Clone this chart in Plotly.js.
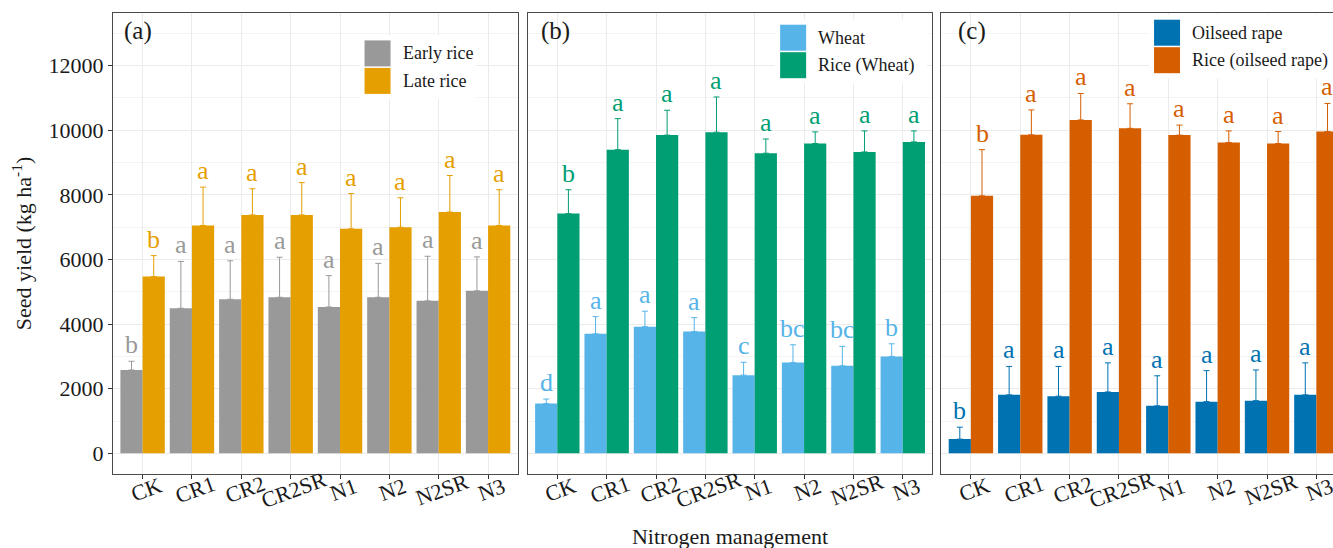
<!DOCTYPE html>
<html><head><meta charset="utf-8">
<script src="https://cdn.plot.ly/plotly-3.0.1.min.js"></script>
<style>html,body{margin:0;padding:0;overflow:hidden;background:#fff}#chart{width:1350px;height:570px}</style>
</head><body><div id="chart"></div>
<script>
const categories = ['CK','CR1','CR2','CR2SR','N1','N2','N2SR','N3'];

// Panel (a)
const earlyRice       = [2580, 4490, 4770, 4830, 4530, 4830, 4720, 5030];
const earlyRiceErr    = [270, 1450, 1190, 1240, 970, 1050, 1380, 1050];
const earlyRiceLetters= ['b','a','a','a','a','a','a','a'];
const lateRice        = [5470, 7050, 7380, 7380, 6950, 7000, 7470, 7050];
const lateRiceErr     = [650, 1190, 810, 1000, 1090, 910, 1130, 1110];
const lateRiceLetters = ['b','a','a','a','a','a','a','a'];

// Panel (b)
const wheat           = [1540, 3700, 3920, 3770, 2420, 2810, 2710, 3000];
const wheatErr        = [140, 530, 480, 430, 400, 550, 600, 390];
const wheatLetters    = ['d','a','a','a','c','bc','bc','b'];
const riceWheat       = [7420, 9400, 9850, 9940, 9290, 9590, 9330, 9640];
const riceWheatErr    = [740, 960, 770, 1090, 440, 360, 650, 340];
const riceWheatLetters= ['b','a','a','a','a','a','a','a'];

// Panel (c)
const oilseed         = [440, 1810, 1770, 1900, 1470, 1600, 1630, 1810];
const oilseedErr      = [370, 880, 920, 900, 930, 960, 950, 990];
const oilseedLetters  = ['b','a','a','a','a','a','a','a'];
const riceOilseed     = [7970, 9860, 10320, 10060, 9850, 9620, 9590, 9960];
const riceOilseedErr  = [1430, 770, 820, 760, 310, 360, 370, 870];
const riceOilseedLetters = ['b','a','a','a','a','a','a','a'];

const yTicks = [0, 2000, 4000, 6000, 8000, 10000, 12000];

const FONT = 'Liberation Serif, Times New Roman, serif';
const PW = 404.8, PH = 461;
const BAR_OFF = 11.1;

const panels = [
  {ax:'x', ay:'y', label:'(a)', labelX:9.3,
   leg:{kx:251.6, ky:27.4, bgW:116},
   series:[
     {name:'Early rice', v:earlyRice, e:earlyRiceErr, l:earlyRiceLetters, c:'#999999'},
     {name:'Late rice', v:lateRice, e:lateRiceErr, l:lateRiceLetters, c:'#E69F00'}]},
  {ax:'x2', ay:'y2', label:'(b)', labelX:11.3,
   leg:{kx:252.5, ky:11.7, bgW:152},
   series:[
     {name:'Wheat', v:wheat, e:wheatErr, l:wheatLetters, c:'#56B4E9'},
     {name:'Rice (Wheat)', v:riceWheat, e:riceWheatErr, l:riceWheatLetters, c:'#009E73'}]},
  {ax:'x3', ay:'y3', label:'(c)', labelX:14.8,
   leg:{kx:212.8, ky:6.7, bgW:200},
   series:[
     {name:'Oilseed rape', v:oilseed, e:oilseedErr, l:oilseedLetters, c:'#0072B2'},
     {name:'Rice (oilseed rape)', v:riceOilseed, e:riceOilseedErr, l:riceOilseedLetters, c:'#D55E00'}]}
];

const traces = [], annotations = [], shapes = [];
panels.forEach(p => {
  const xd = p.ax + ' domain', yd = p.ay + ' domain';
  p.series.forEach((s, si) => {
    traces.push({
      type:'bar', x:categories, y:s.v, name:s.name, xaxis:p.ax, yaxis:p.ay,
      marker:{color:s.c, line:{width:0}}, showlegend:false, hoverinfo:'x+y',
      error_y:{type:'data', symmetric:false, array:s.e, arrayminus:s.e.map(()=>0),
               color:s.c, thickness:1, width:3}
    });
    categories.forEach((cat, i) => {
      annotations.push({xref:p.ax, yref:p.ay, x:cat, y:s.v[i]+s.e[i],
        xshift: si === 0 ? -BAR_OFF : BAR_OFF, yanchor:'bottom', xanchor:'center',
        text:s.l[i], showarrow:false, font:{family:FONT, size:26, color:s.c}});
    });
    // legend key + text
    const kTop = p.leg.ky + si*27.5;
    shapes.push({type:'rect', xref:xd, yref:yd, layer:'above',
      x0:p.leg.kx/PW, x1:(p.leg.kx+26)/PW, y0:1-(kTop+26)/PH, y1:1-kTop/PH,
      fillcolor:s.c, line:{width:0}});
    annotations.push({xref:xd, yref:yd, x:(p.leg.kx+36)/PW, y:1-(kTop+13)/PH,
      xanchor:'left', yanchor:'middle', text:s.name, showarrow:false,
      font:{family:FONT, size:18, color:'#1a1a1a'}});
  });
  // legend background
  shapes.unshift({type:'rect', xref:xd, yref:yd, layer:'above',
    x0:(p.leg.kx-5)/PW, x1:Math.min(1,(p.leg.kx-5+p.leg.bgW)/PW),
    y0:1-(p.leg.ky+58.5)/PH, y1:1-(p.leg.ky-5)/PH, fillcolor:'#ffffff', line:{width:0}});
  // panel label
  annotations.push({xref:xd, yref:yd, x:p.labelX/PW, y:1-17.7/PH, xanchor:'left', yanchor:'middle',
    text:p.label, showarrow:false, font:{family:FONT, size:25, color:'#1a1a1a'}});
  // x tick labels (rotated, centered)
  categories.forEach(cat => {
    annotations.push({xref:p.ax, yref:yd, x:cat, y:0, yshift:-15.5, xshift:3.5,
      xanchor:'center', yanchor:'middle', textangle:-20, text:cat, showarrow:false,
      font:{family:FONT, size:22, color:'#1a1a1a'}});
  });
});

const gridC = '#ebebeb', minorC = '#f4f4f4', lineC = '#4a4a4a';
function xAxis(domain, anchor) {
  return {domain:domain, anchor:anchor, type:'category', categoryorder:'array', categoryarray:categories,
    range:[-0.6, 7.6], showgrid:true, gridcolor:gridC, gridwidth:1, zeroline:false,
    ticks:'outside', ticklen:4, tickcolor:'#333', showticklabels:false,
    showline:true, mirror:true, linecolor:lineC, linewidth:1, fixedrange:true};
}
function yAxis(anchor, main) {
  const a = {anchor:anchor, domain:[0,1], range:[-640, 13630], tickmode:'array', tickvals:yTicks,
    ticktext:yTicks.map(String),
    showgrid:true, gridcolor:gridC, gridwidth:1, zeroline:false,
    minor:{dtick:1000, tick0:0, showgrid:true, gridcolor:minorC, gridwidth:1, ticks:''},
    showline:true, mirror:true, linecolor:lineC, linewidth:1, fixedrange:true,
    ticks: main ? 'outside' : '', ticklen:4, tickcolor:'#333', showticklabels: !!main,
    tickfont:{family:FONT, size:22, color:'#1a1a1a'}};
  if (!main) a.matches = 'y';
  return a;
}

const layout = {
  width:1350, height:570,
  margin:{l:112.7, r:4, t:13.3, b:95.5},
  paper_bgcolor:'#ffffff', plot_bgcolor:'#ffffff',
  barmode:'group', bargap:0.1, bargroupgap:0,
  font:{family:FONT, color:'#1a1a1a'},
  xaxis: xAxis([0, 0.32822], 'y'),
  xaxis2: Object.assign(xAxis([0.33633, 0.66456], 'y2'),
    {title:{text:'Nitrogen management', font:{family:FONT, size:22, color:'#1a1a1a'}, standoff:50}}),
  xaxis3: xAxis([0.67177, 1], 'y3'),
  yaxis: Object.assign(yAxis('x', true),
    {title:{text:'Seed yield (kg ha<sup>-1</sup>)', font:{family:FONT, size:22, color:'#1a1a1a'}, standoff:10}}),
  yaxis2: yAxis('x2', false),
  yaxis3: yAxis('x3', false),
  annotations:annotations, shapes:shapes, showlegend:false
};

Plotly.newPlot('chart', traces, layout, {staticPlot:true, displayModeBar:false});
</script></body></html>
